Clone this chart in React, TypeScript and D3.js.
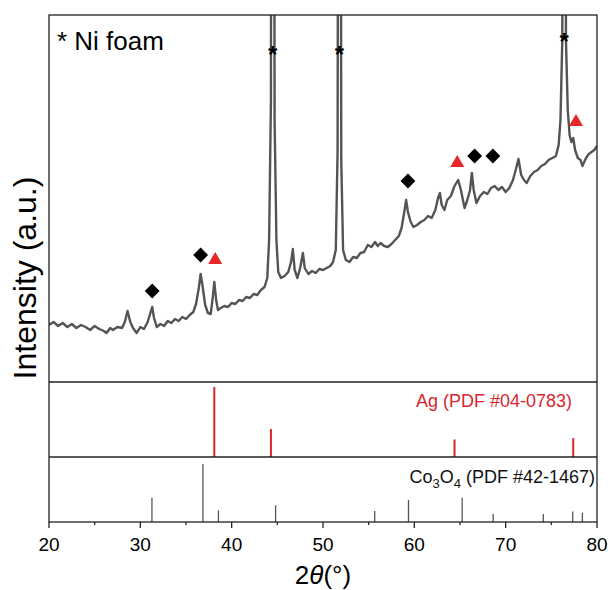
import React, { useRef, useEffect } from "react";
import * as d3 from "d3";

// XRD pattern (2theta in degrees, intensity in a.u.)
const scanAngles = [
  20.0, 20.5, 21.0, 21.5, 22.0, 22.5, 23.0, 23.5, 24.0, 24.5, 25.0, 25.5, 26.0, 26.3, 26.7, 27.0, 27.5, 28.0,
  28.3, 28.6, 28.9, 29.2, 29.6, 30.0, 30.4, 30.8, 31.1, 31.3, 31.5, 31.8, 32.2, 32.6, 33.0, 33.4, 33.8, 34.2,
  34.6, 35.0, 35.4, 35.8, 36.1, 36.4, 36.6, 36.8, 37.1, 37.4, 37.7, 37.9, 38.1, 38.3, 38.5, 38.8, 39.2, 39.6,
  40.0, 40.4, 40.8, 41.2, 41.6, 42.0, 42.4, 42.8, 43.2, 43.6, 43.9, 44.1, 44.3, 44.5, 44.7, 44.9, 45.1, 45.4,
  45.8, 46.2, 46.5, 46.7, 46.9, 47.2, 47.5, 47.8, 48.0, 48.4, 48.8, 49.2, 49.6, 50.0, 50.4, 50.8, 51.1, 51.4,
  51.6, 51.8, 52.0, 52.2, 52.5, 52.9, 53.3, 53.7, 54.1, 54.5, 54.9, 55.3, 55.7, 56.0, 56.3, 56.7, 57.1, 57.5,
  57.9, 58.3, 58.6, 58.9, 59.1, 59.3, 59.6, 59.9, 60.3, 60.7, 61.1, 61.5, 61.9, 62.3, 62.6, 62.8, 63.0, 63.3,
  63.6, 64.0, 64.4, 64.8, 65.1, 65.5, 65.8, 66.1, 66.3, 66.5, 66.8, 67.2, 67.6, 68.0, 68.4, 68.8, 69.2, 69.6,
  70.0, 70.4, 70.8, 71.1, 71.4, 71.7, 72.0, 72.3, 72.7, 73.1, 73.5, 73.9, 74.3, 74.7, 75.1, 75.5, 75.8, 76.0,
  76.2, 76.4, 76.6, 76.8, 77.0, 77.2, 77.4, 77.6, 77.9, 78.2, 78.4, 78.8, 79.1, 79.4, 79.7, 80.0,
];
const scanCounts = [
  57, 60, 56, 59, 55, 58, 54, 57, 55, 52, 56, 53, 51, 49, 54, 52, 55, 54,
  60, 71, 60, 54, 49, 55, 53, 60, 69, 75, 64, 55, 58, 56, 61, 59, 63, 61,
  65, 63, 67, 70, 78, 94, 108, 97, 77, 69, 68, 82, 100, 82, 72, 74, 76, 75,
  79, 78, 82, 81, 85, 84, 88, 87, 92, 95, 104, 142, 282, 2000, 262, 142, 110, 104,
  106, 110, 120, 133, 112, 104, 114, 129, 114, 108, 111, 109, 113, 112, 114, 116, 120, 132,
  232, 1500, 222, 132, 122, 120, 125, 124, 129, 130, 137, 135, 140, 136, 139, 136, 135, 138,
  142, 146, 154, 170, 182, 170, 160, 155, 157, 160, 162, 166, 164, 172, 184, 189, 177, 172,
  182, 186, 196, 202, 192, 174, 182, 192, 209, 192, 179, 186, 190, 188, 194, 196, 192, 195,
  190, 194, 202, 212, 223, 207, 202, 199, 206, 210, 212, 216, 218, 222, 224, 226, 237, 262,
  342, 1300, 342, 272, 247, 240, 244, 232, 224, 222, 216, 224, 228, 230, 232, 236,
];

// reference patterns
const agPositions = [38.1, 44.3, 64.4, 77.4];
const agIntensities = [100, 40, 25, 27];
const coPositions = [31.27, 36.85, 38.55, 44.81, 55.66, 59.36, 65.24, 68.63, 74.12, 77.34, 78.4];
const coIntensities = [42, 100, 20, 29, 19, 38, 42, 14, 14, 18, 16];

// peak markers
const niMarks = [
  [44.5, 332],
  [51.8, 332],
  [76.4, 345],
];
const coMarks = [
  [31.3, 91],
  [36.6, 127],
  [59.3, 201],
  [66.6, 226],
  [68.6, 226],
];
const agMarks = [
  [38.2, 122],
  [64.7, 219],
  [77.7, 260],
];

const xTicks = [20, 30, 40, 50, 60, 70, 80];
const xMinorTicks = [25, 35, 45, 55, 65, 75];

export default function App() {
  const svgRef = useRef(null);

  useEffect(() => {
    const width = 608;
    const height = 590;
    const left = 49;
    const right = 597;
    const top = 15;
    const mainBottom = 382;
    const agBottom = 457;
    const bottom = 522;
    const font = "'Liberation Sans', Arial, sans-serif";

    const root = d3.select(svgRef.current);
    root.selectAll("*").remove();
    const svg = root.attr("width", width).attr("height", height);

    const x = d3.scaleLinear().domain([20, 80]).range([left, right]);
    const y = d3.scaleLinear().domain([0, 367]).range([mainBottom, top]);
    const yAg = d3.scaleLinear().domain([0, 100]).range([agBottom, agBottom - 70]);
    const yCo = d3.scaleLinear().domain([0, 100]).range([bottom, bottom - 58]);

    svg
      .append("defs")
      .append("clipPath")
      .attr("id", "main-clip")
      .append("rect")
      .attr("x", left)
      .attr("y", top)
      .attr("width", right - left)
      .attr("height", mainBottom - top);

    // measured pattern
    const line = d3
      .line<number>()
      .x((d, i) => x(scanAngles[i]))
      .y((d) => y(d));

    svg
      .append("path")
      .attr("clip-path", "url(#main-clip)")
      .attr("d", line(scanCounts))
      .attr("fill", "none")
      .attr("stroke", "#545454")
      .attr("stroke-width", 2.4)
      .attr("stroke-linejoin", "round");

    // Ni foam stars
    svg
      .selectAll("text.ni")
      .data(niMarks)
      .enter()
      .append("text")
      .attr("class", "ni")
      .attr("x", (d) => x(d[0]))
      .attr("y", (d) => y(d[1]) + 13)
      .attr("text-anchor", "middle")
      .attr("font-family", font)
      .attr("font-weight", "bold")
      .attr("font-size", 24)
      .text("*");

    // Co3O4 diamonds
    svg
      .selectAll("path.co")
      .data(coMarks)
      .enter()
      .append("path")
      .attr("class", "co")
      .attr("d", d3.symbol(d3.symbolSquare, 110)())
      .attr("transform", (d) => `translate(${x(d[0])},${y(d[1])}) rotate(45)`)
      .attr("fill", "#000");

    // Ag triangles
    svg
      .selectAll("path.ag")
      .data(agMarks)
      .enter()
      .append("path")
      .attr("class", "ag")
      .attr("d", d3.symbol(d3.symbolTriangle, 85)())
      .attr("transform", (d) => `translate(${x(d[0])},${y(d[1])})`)
      .attr("fill", "#e8262a");

    svg
      .append("text")
      .attr("x", 57)
      .attr("y", 50)
      .attr("font-family", font)
      .attr("font-size", 26)
      .text("* Ni foam");

    // Ag reference sticks
    svg
      .selectAll("line.agStick")
      .data(agPositions)
      .enter()
      .append("line")
      .attr("class", "agStick")
      .attr("x1", (d) => x(d))
      .attr("x2", (d) => x(d))
      .attr("y1", agBottom)
      .attr("y2", (d, i) => yAg(agIntensities[i]))
      .attr("stroke", "#d9262e")
      .attr("stroke-width", 2);

    svg
      .append("text")
      .attr("x", 572)
      .attr("y", 407)
      .attr("text-anchor", "end")
      .attr("font-family", font)
      .attr("font-size", 18)
      .attr("fill", "#d9262e")
      .text("Ag (PDF #04-0783)");

    // Co3O4 reference sticks
    svg
      .selectAll("line.coStick")
      .data(coPositions)
      .enter()
      .append("line")
      .attr("class", "coStick")
      .attr("x1", (d) => x(d))
      .attr("x2", (d) => x(d))
      .attr("y1", bottom)
      .attr("y2", (d, i) => yCo(coIntensities[i]))
      .attr("stroke", "#555")
      .attr("stroke-width", 1.3);

    const coLabel = svg
      .append("text")
      .attr("x", 595)
      .attr("y", 483)
      .attr("text-anchor", "end")
      .attr("font-family", font)
      .attr("font-size", 18)
      .attr("fill", "#111");
    coLabel.append("tspan").text("Co");
    coLabel.append("tspan").attr("dy", 5).attr("font-size", 13).text("3");
    coLabel.append("tspan").attr("dy", -5).text("O");
    coLabel.append("tspan").attr("dy", 5).attr("font-size", 13).text("4");
    coLabel.append("tspan").attr("dy", -5).text(" (PDF #42-1467)");

    // frame and panel dividers
    svg
      .append("rect")
      .attr("x", left)
      .attr("y", top)
      .attr("width", right - left)
      .attr("height", bottom - top)
      .attr("fill", "none")
      .attr("stroke", "#222")
      .attr("stroke-width", 1.3);
    [mainBottom, agBottom].forEach((yy) => {
      svg
        .append("line")
        .attr("x1", left)
        .attr("x2", right)
        .attr("y1", yy)
        .attr("y2", yy)
        .attr("stroke", "#222")
        .attr("stroke-width", 1.3);
    });

    // x axis
    const axis = svg.append("g").attr("transform", `translate(0,${bottom})`);
    axis
      .selectAll("line.major")
      .data(xTicks)
      .enter()
      .append("line")
      .attr("x1", (d) => x(d))
      .attr("x2", (d) => x(d))
      .attr("y1", 0)
      .attr("y2", 6)
      .attr("stroke", "#222")
      .attr("stroke-width", 1.3);
    axis
      .selectAll("line.minor")
      .data(xMinorTicks)
      .enter()
      .append("line")
      .attr("x1", (d) => x(d))
      .attr("x2", (d) => x(d))
      .attr("y1", 0)
      .attr("y2", 3)
      .attr("stroke", "#222")
      .attr("stroke-width", 1.3);
    axis
      .selectAll("text")
      .data(xTicks)
      .enter()
      .append("text")
      .attr("x", (d) => x(d))
      .attr("y", 29)
      .attr("text-anchor", "middle")
      .attr("font-family", font)
      .attr("font-size", 19)
      .text((d) => d);

    const xTitle = svg
      .append("text")
      .attr("x", 323)
      .attr("y", 584)
      .attr("text-anchor", "middle")
      .attr("font-family", font)
      .attr("font-size", 26);
    xTitle.append("tspan").text("2");
    xTitle.append("tspan").attr("font-style", "italic").text("θ");
    xTitle.append("tspan").text("(°)");

    svg
      .append("text")
      .attr("transform", "translate(36,278) rotate(-90)")
      .attr("text-anchor", "middle")
      .attr("font-family", font)
      .attr("font-size", 32)
      .text("Intensity (a.u.)");
  }, []);

  return <svg ref={svgRef} style={{ position: "absolute", left: 0, top: 0 }}></svg>;
}
